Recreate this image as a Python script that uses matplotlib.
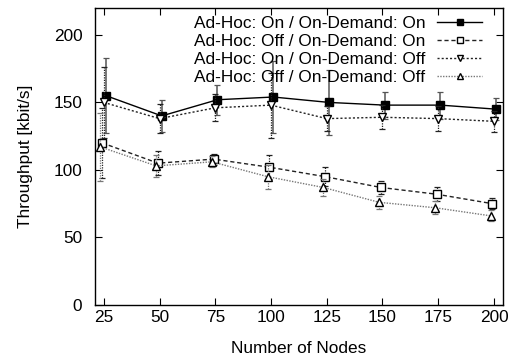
import numpy as np
import matplotlib
matplotlib.use("Agg")
import matplotlib.pyplot as plt

plt.rcParams['font.family'] = ['Liberation Sans', 'DejaVu Sans']

# Data
nodes = [25, 50, 75, 100, 125, 150, 175, 200]

on_on = [155, 140, 152, 154, 150, 148, 148, 145]
on_on_err = [28, 12, 11, 27, 24, 10, 10, 8]

off_on = [120, 105, 108, 102, 95, 87, 82, 75]
off_on_err = [26, 9, 4, 9, 7, 5, 5, 4]

on_off = [150, 138, 146, 148, 138, 139, 138, 136]
on_off_err = [26, 11, 10, 24, 9, 9, 9, 8]

off_off = [117, 103, 106, 95, 87, 76, 72, 66]
off_off_err = [25, 8, 4, 9, 6, 5, 5, 4]

labels = ['Ad-Hoc: On / On-Demand: On',
          'Ad-Hoc: Off / On-Demand: On',
          'Ad-Hoc: On / On-Demand: Off',
          'Ad-Hoc: Off / On-Demand: Off']

fig = plt.figure(figsize=(5.1, 3.6), dpi=100)
ax = fig.add_axes([0.186, 0.153, 0.8, 0.825])

x = np.array(nodes, dtype=float)

series = [
    (on_on, on_on_err, 1.0, dict(color='black', ls='-', marker='s', mfc='black', ms=6), '#555555'),
    (off_on, off_on_err, -0.7, dict(color='#222222', ls=(0, (3, 2)), marker='s', mfc='white', ms=6), '#222222'),
    (on_off, on_off_err, 0.0, dict(color='#222222', ls=(0, (1.5, 1.5)), marker='v', mfc='white', ms=5.5), '#222222'),
    (off_off, off_off_err, -1.5, dict(color='#777777', ls=(0, (1, 1)), marker='^', mfc='white', ms=5.5), '#777777'),
]

for i, ((vals, errs, off, style, ecol), lab) in enumerate(zip(series, labels)):
    eb = ax.errorbar(x + off, vals, yerr=errs, fmt='none', ecolor=ecol,
                     elinewidth=1.1 if i == 0 else 0.9, capsize=2, capthick=0.9)
    if i > 0:
        for c in eb[2]:
            c.set_linestyle((0, (1, 1)))
    ax.plot(x + off, vals, color=style['color'], ls=style['ls'], lw=1.0,
            marker=style['marker'], mfc=style['mfc'], mec='black',
            ms=style['ms'], mew=1.0, label=lab)

ax.set_xlim(21, 204)
ax.set_ylim(0, 220)
ax.set_xticks(nodes)
ax.set_yticks([0, 50, 100, 150, 200])
ax.tick_params(direction='in', top=True, right=True, length=5, labelsize=12.4)
ax.tick_params(axis='x', pad=4)
ax.tick_params(axis='y', pad=9)
for s in ax.spines.values():
    s.set_linewidth(1.0)
ax.set_xlabel('Number of Nodes', fontsize=12.4, labelpad=11)
ax.set_ylabel('Throughput [kbit/s]', fontsize=12.4, labelpad=15)

leg = ax.legend(loc='upper right', bbox_to_anchor=(0.949, 0.974), frameon=False,
                markerfirst=False, fontsize=12.4, handlelength=2.6,
                handletextpad=0.7, labelspacing=0.18, borderaxespad=0.0,
                borderpad=0.0, markerscale=0.7)

fig.savefig('out.png', dpi=100)
